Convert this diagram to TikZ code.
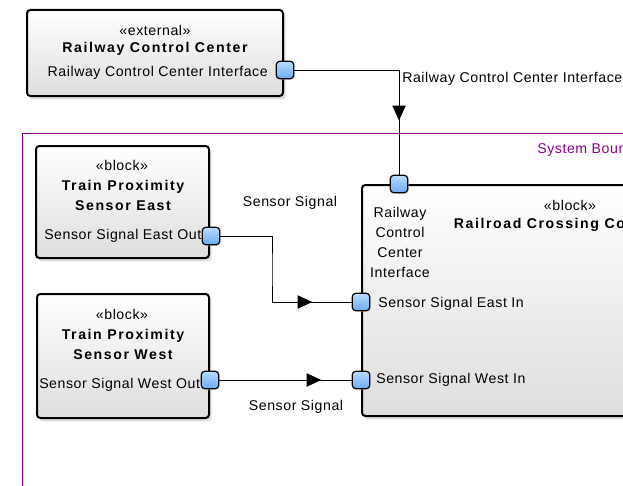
\documentclass[tikz,border=0pt]{standalone}
\usepackage{fontspec}
\setmainfont{Liberation Sans}[LetterSpace=4]
\newfontfamily\titlefont{Liberation Sans}[LetterSpace=11]
\usetikzlibrary{arrows.meta,shadows,decorations.markings,positioning}
\definecolor{portblue}{HTML}{68ADF4}
\definecolor{portlight}{HTML}{BADCFF}
\definecolor{sysborder}{HTML}{8B008B}

\begin{document}
\begin{tikzpicture}[x=0.75pt, y=-0.75pt,
  every node/.style={font=\fontsize{10.6}{15}\selectfont, inner sep=0pt},
  blk/.style={draw, line width=1.5pt, rounded corners=2.5pt, top color=white, bottom color=black!13,
    drop shadow={shadow xshift=2pt, shadow yshift=-2.5pt, fill=black!25}},
  port/.style={draw, line width=0.9pt, rounded corners=2.5pt, minimum size=13pt,
    top color=portlight, bottom color=portblue,
    drop shadow={shadow xshift=1pt, shadow yshift=-1pt, fill=black!18}},
  ttl/.style={font=\titlefont\bfseries\fontsize{10.6}{15}\selectfont, align=center},
  conn/.style={line width=0.75pt},
  arr/.style={conn, postaction={decorate, decoration={markings,
    mark=at position #1 with {\arrow{Triangle[length=11pt,width=10pt]}}}}},
]
\useasboundingbox (0,0) rectangle (623,485);
\clip (0,0) rectangle (623,485);

% system boundary
\draw[sysborder, line width=0.75pt] (22,133) rectangle (700,600);
\node[anchor=west, text=sysborder] (sbl) at (537,150) {System Boundary};

% external block
\node[blk, minimum width=192pt, minimum height=64.5pt] (RCC) at (155,53) {};
\node (RCCst) at (155,30) {«external»};
\node[ttl] (RCCt) at (155,49) {Railway Control Center};
\node[anchor=east] (RCCil) at (268,73) {Railway Control Center Interface};

% sensor blocks
\node[blk, minimum width=129.75pt, minimum height=84pt] (TPE) at (122.5,202) {};
\node (TPEst) at (122,165) {«block»};
\node[ttl] (TPEt) at (123,195) {Train Proximity\\Sensor East};
\node[anchor=west] (TPEol) at (44,236) {Sensor Signal East Out};

\node[blk, minimum width=129pt, minimum height=93pt] (TPW) at (123,356) {};
\node (TPWst) at (122,314) {«block»};
\node[ttl] (TPWt) at (123,344) {Train Proximity\\Sensor West};
\node[anchor=west] (TPWol) at (39,385) {Sensor Signal West Out};

% controller
\node[blk, minimum width=312pt, minimum height=173.25pt] (RXC) at (570,300.5) {};
\node (RXCst) at (570,205) {«block»};
\node[ttl] (RXCt) at (570,225) {Railroad Crossing Controller};
\node[align=center] (RXCil) at (400,242) {Railway\\Control\\Center\\Interface};
\node[anchor=west] (RXCel) at (378,304) {Sensor Signal East In};
\node[anchor=west] (RXCwl) at (376,380) {Sensor Signal West In};

% ports
\node[port] (pRCC) at (285,70) {};
\node[port] (pTPE) at (211,236) {};
\node[port] (pTPW) at (210,380) {};
\node[port] (pRXCi) at (399,184) {};
\node[port] (pRXCe) at (361,302) {};
\node[port] (pRXCw) at (361,380) {};

% connectors
\coordinate (bendE) at (272,270);
\draw[arr=0.74] (pRCC.east) -| (pRXCi.north);
\draw[arr=0.8] (pTPE.east) -| (bendE) |- (pRXCe.west);
\draw[arr=0.77] (pTPW.east) -- (pRXCw.west);
\node[anchor=west] (lblI) at (402,79) {Railway Control Center Interface};
\node (lblE) at (290,203) {Sensor Signal};
\node (lblW) at (296,407) {Sensor Signal};
\end{tikzpicture}
\end{document}
